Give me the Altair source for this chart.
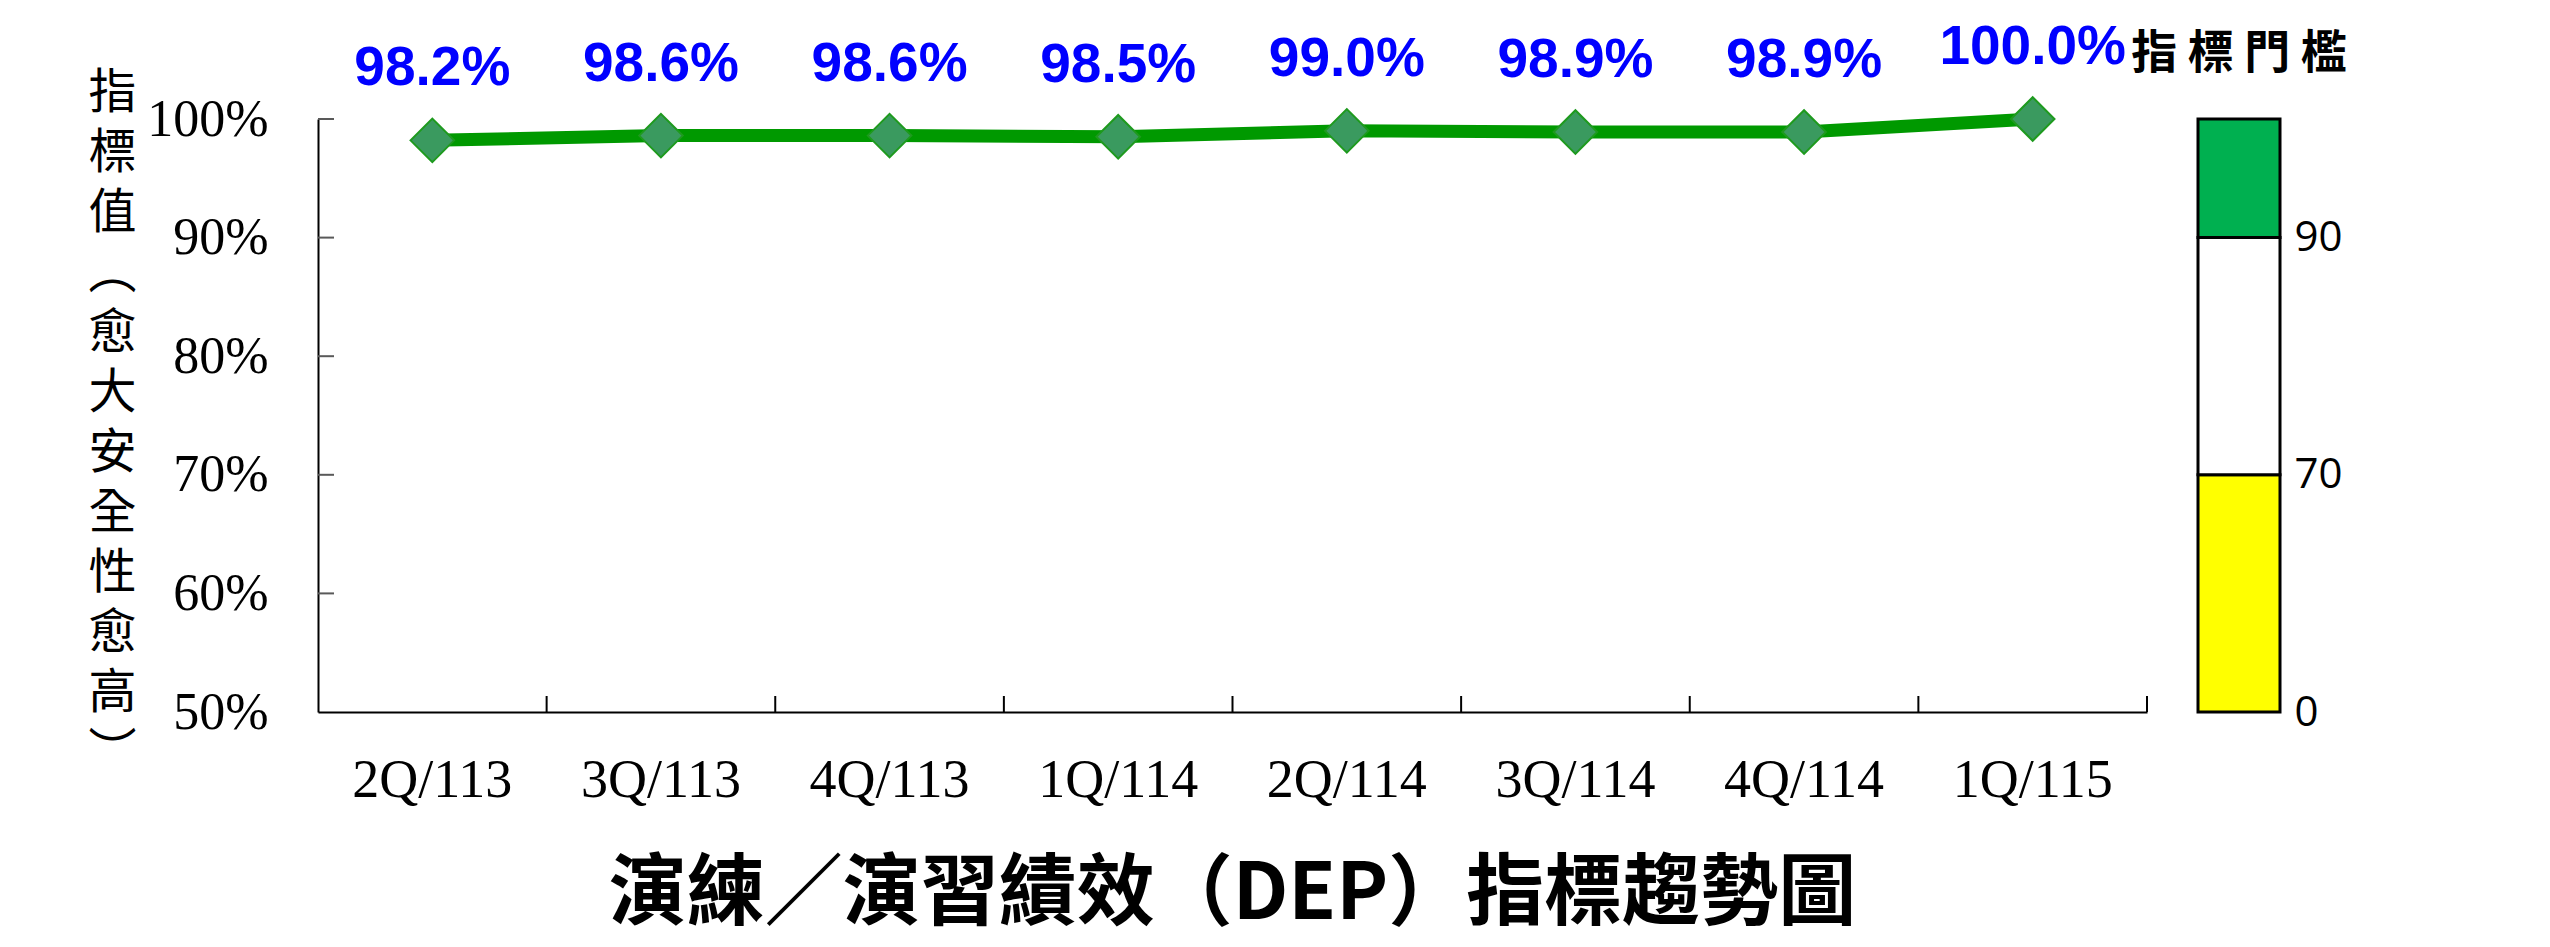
import json
import altair as alt
import pandas as pd

# ---- data ----
quarters = ["2Q/113", "3Q/113", "4Q/113", "1Q/114", "2Q/114", "3Q/114", "4Q/114", "1Q/115"]
values = [0.982, 0.986, 0.986, 0.985, 0.990, 0.989, 0.989, 1.000]
y_ticks = [0.5, 0.6, 0.7, 0.8, 0.9, 1.0]
band_lo = [0.5, 0.7, 0.9]
band_hi = [0.7, 0.9, 1.0]
band_colors = ["#FFFF00", "#FFFFFF", "#00B050"]
band_labels = ["0", "70", "90"]
y_title_chars = ["指", "標", "值", "︵", "愈", "大", "安", "全", "性", "愈", "高", "︶"]
chart_title = "演練／演習績效（DEP）指標趨勢圖"
legend_title = "指 標 門 檻"

W, H = 1829, 593
CJK = "Noto Sans CJK TC"
SERIF = "Liberation Serif"

df = pd.DataFrame({"q": quarters, "v": values})
df_yt = pd.DataFrame({"v": y_ticks[1:]})
df_leg = pd.DataFrame({"lo": band_lo, "hi": band_hi, "c": band_colors})

xscale = alt.Scale(type="band", paddingInner=0, paddingOuter=0, domain=quarters)
yscale = alt.Scale(domain=[0.5, 1.0], nice=False, zero=False)

x_axis = alt.Axis(title=None, labelAngle=0, ticks=False, grid=False,
                  domainColor="black", domainWidth=2,
                  labelFont=SERIF, labelFontSize=54, labelColor="black",
                  labelPadding=41)
y_axis = alt.Axis(values=y_ticks, format=".0%", ticks=False, grid=False,
                  domainColor="black", domainWidth=2,
                  labelFont=SERIF, labelFontSize=52, labelColor="black",
                  labelPadding=50,
                  title=y_title_chars, titleAngle=0, titleFont=CJK,
                  titleFontSize=48, titleFontWeight="normal", titleColor="black",
                  titleLineHeight=60, titleAlign="center", titleBaseline="top",
                  titleX=-206, titleY=-50)

x_main = alt.X("q:N", scale=xscale, sort=quarters, axis=x_axis)
y_main = alt.Y("v:Q", scale=yscale, axis=y_axis)

line = alt.Chart(df).mark_line(color="#009900", strokeWidth=13).encode(x=x_main, y=y_main)
pts = alt.Chart(df).mark_point(
    shape="diamond", filled=True, size=1900, fill="#3A9A5F", fillOpacity=1,
    stroke="#1E9A1E", strokeWidth=2, opacity=1,
).encode(x=x_main, y=y_main)
labels = alt.Chart(df).mark_text(
    dy=-72, fontSize=55, fontWeight="bold", font="Liberation Sans",
    color="#0000FF", baseline="middle", align="center",
).encode(x=x_main, y=y_main, text=alt.Text("v:Q", format=".1%"))
ytick = alt.Chart(df_yt).mark_rule(color="#595959", strokeWidth=2).encode(
    y=y_main, x=alt.value(0), x2=alt.value(16)
)
xtick = alt.Chart(df).mark_rule(color="black", strokeWidth=2).encode(
    x=alt.X("q:N", scale=xscale, sort=quarters, axis=x_axis, bandPosition=1),
    y=alt.value(H), y2=alt.value(H - 16),
)

main = alt.layer(line, ytick, xtick, pts, labels).properties(
    width=W, height=H,
    title=alt.TitleParams(chart_title, orient="bottom", anchor="middle", font=CJK,
                          fontSize=78, fontWeight="bold", color="black", offset=50),
)

label_expr = f"{json.dumps(band_labels)}[indexof({json.dumps(band_lo)}, datum.value)]"
legend = alt.Chart(df_leg).mark_rect(stroke="black", strokeWidth=3).encode(
    y=alt.Y("lo:Q", scale=yscale,
            axis=alt.Axis(orient="right", values=band_lo, labelExpr=label_expr,
                          domain=False, ticks=False, grid=False, title=None,
                          labelFont="Open Sans", labelFontSize=42, labelColor="black",
                          labelPadding=14, labelBaseline="middle")),
    y2="hi:Q",
    fill=alt.Fill("c:N", scale=None),
).properties(
    width=82, height=H,
    title=alt.TitleParams(legend_title, anchor="middle", font=CJK, fontSize=46,
                          fontWeight="bold", color="black", offset=40),
)

chart = alt.hconcat(main, legend, spacing=51, bounds="flush").configure_view(stroke=None).properties(
    padding={"left": 87, "top": 20, "right": 0, "bottom": 10}, background="white"
)

chart.save("out.html", embed_options={"renderer": "svg", "actions": False})
